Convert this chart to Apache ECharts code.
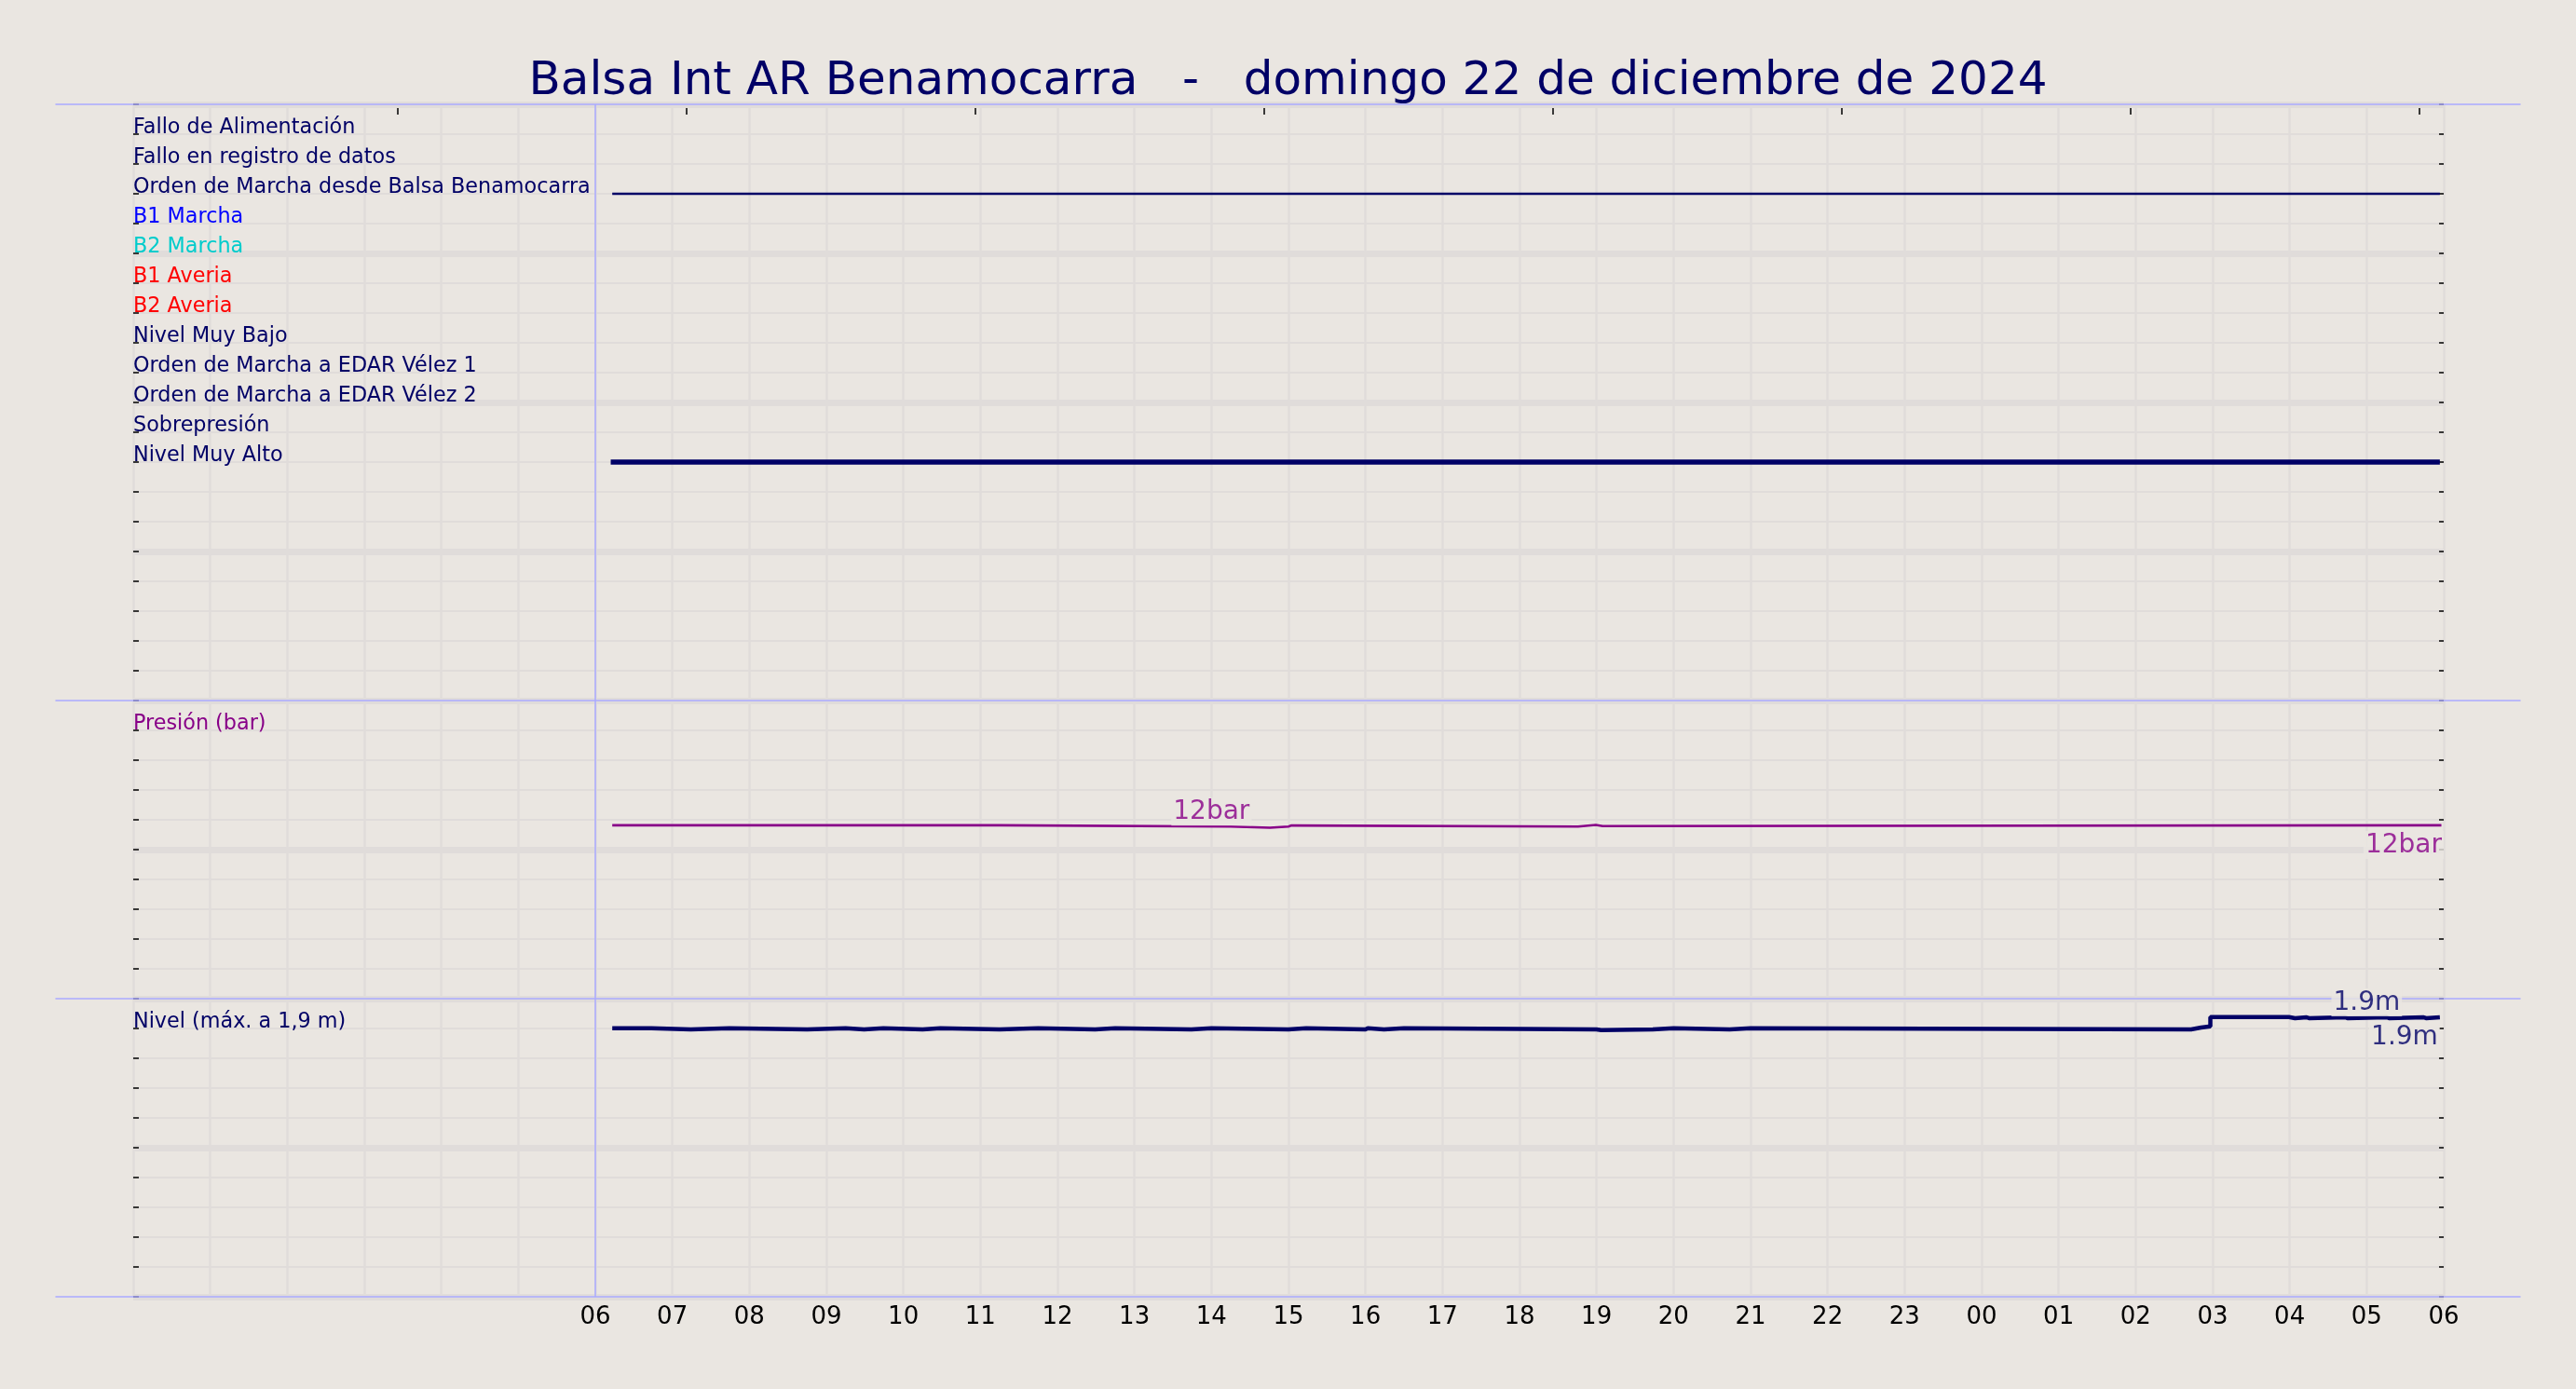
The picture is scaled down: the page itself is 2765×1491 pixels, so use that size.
<!DOCTYPE html>
<html><head><meta charset="utf-8">
<script src="https://cdn.jsdelivr.net/npm/echarts/dist/echarts.min.js"></script>
<style>html,body{margin:0;padding:0;background:#EAE6E1;}#c{width:2765px;height:1491px;}</style>
</head><body><div id="c"></div>
<script>
// ---------------- DATA ----------------
const titleText = 'Balsa Int AR Benamocarra   -   domingo 22 de diciembre de 2024';
// x axis: hours since 00:00 of the day (0..30); labels shown from 06 to 06
const xTickLabels = ['06','07','08','09','10','11','12','13','14','15','16','17','18','19','20','21','22','23','00','01','02','03','04','05','06'];
const xLabelStartHour = 6;

const signalNames = ['Fallo de Alimentación','Fallo en registro de datos','Orden de Marcha desde Balsa Benamocarra','B1 Marcha','B2 Marcha','B1 Averia','B2 Averia','Nivel Muy Bajo','Orden de Marcha a EDAR Vélez 1','Orden de Marcha a EDAR Vélez 2','Sobrepresión','Nivel Muy Alto'];
// [hour, state]
const falloAlimentacion = [[6.2,0],[29.95,0]];
const falloRegistro     = [[6.2,0],[29.95,0]];
const ordenBalsa        = [[6.22,1],[29.95,1]];
const b1Marcha          = [[6.2,0],[29.95,0]];
const b2Marcha          = [[6.2,0],[29.95,0]];
const b1Averia          = [[6.2,0],[29.95,0]];
const b2Averia          = [[6.2,0],[29.95,0]];
const nivelMuyBajo      = [[6.2,0],[29.95,0]];
const ordenEdar1        = [[6.2,0],[29.95,0]];
const ordenEdar2        = [[6.2,0],[29.95,0]];
const sobrepresion      = [[6.2,0],[29.95,0]];
const nivelMuyAlto      = [[6.2,1],[29.95,1]];

const pressureHours = [6.22, 11.25, 14.25, 14.76, 15.0, 15.04, 18.76, 18.99, 19.08, 29.97];
const pressureBar   = [11.63, 11.55, 11.47, 11.55, 11.62, 11.55, 11.66, 11.58, 11.63, 11.63];

const levelHours = [6.22, 6.73, 7.24, 7.74, 8.75, 9.25, 9.49, 9.74, 10.25, 10.48, 11.25, 11.75, 12.49, 12.75, 13.74, 14.0, 15.0, 15.23, 16.0, 16.03, 16.24, 16.5, 19.0, 19.06, 19.73, 20.0, 20.73, 21.0, 26.72, 26.85, 26.97, 27.99, 28.07, 28.22, 28.25, 28.72, 28.75, 29.26, 29.29, 29.74, 29.77, 29.95];
const levelM     = [1.802, 1.794, 1.802, 1.794, 1.802, 1.794, 1.802, 1.794, 1.802, 1.794, 1.802, 1.794, 1.802, 1.794, 1.802, 1.794, 1.802, 1.794, 1.802, 1.794, 1.802, 1.794, 1.789, 1.794, 1.802, 1.794, 1.802, 1.794, 1.806, 1.814, 1.877, 1.869, 1.875, 1.869, 1.875, 1.869, 1.875, 1.869, 1.875, 1.869, 1.875, 1.875];

const pressureTitle = 'Presión (bar)';
const levelTitle = 'Nivel (máx. a 1,9 m)';
// annotations: [hour, value, text]
const pressureMaxNote  = [14.0, 11.55, '12bar'];
const pressureLastNote = [30.0, 11.63, '12bar'];
const levelMaxNote     = [29.0, 1.875, '1.9m'];
const levelLastNote    = [29.95, 1.875, '1.9m'];

// ---------------- STYLE ----------------
const FONT = 'DejaVu Sans';
const BG = '#EAE6E1', GRIDC = '#E0DCDA', BLUE = '#AAAAFF', NAVY = '#000066', PURPLE = '#880088';
const LABEL_SIZE = 22.3;
const signalColors = [NAVY, NAVY, NAVY, '#0000FF', '#00CCCC', '#FF0000', '#FF0000', NAVY, NAVY, NAVY, NAVY, NAVY];
const signalLineWidths = [2.5,2.5,2.5,2.5,2.5,2.5,2.5,2.5,2.5,2.5,2.5,5.5];
const signalStates = [falloAlimentacion, falloRegistro, ordenBalsa, b1Marcha, b2Marcha, b1Averia, b2Averia, nivelMuyBajo, ordenEdar1, ordenEdar2, sobrepresion, nivelMuyAlto];

const LEFT = 143, WIDTH = 2480;
const TOP_ROWS = 20;
const panels = [{top:112, height:640}, {top:752, height:320}, {top:1072, height:320}];

const chart = echarts.init(document.getElementById('c'), null, {renderer:'canvas'});

function xPanel(gi, labels) {
  return {
    type:'value', gridIndex:gi, min:0, max:30, interval:1, position:'bottom',
    axisLine:{show:false}, axisTick:{show:false},
    splitLine:{show:true, lineStyle:{color:GRIDC, width:2.5}},
    axisLabel: labels ? {show:true, color:'#000', fontSize:26, fontFamily:FONT, margin:9, showMinLabel:true, showMaxLabel:true,
      formatter: v => (v >= xLabelStartHour ? xTickLabels[v - xLabelStartHour] : '')} : {show:false}
  };
}
function yLeft(gi, min, max, interval, formatter, rich) {
  return {
    type:'value', gridIndex:gi, min, max, interval, position:'left',
    axisLine:{show:false},
    axisTick:{show:true, inside:true, length:6, lineStyle:{color:'#000', width:1.5}},
    splitLine:{show:true, lineStyle:{color:GRIDC, width:2}},
    axisLabel:{show:true, inside:true, margin:0, verticalAlign:'bottom', formatter, rich, showMinLabel:true, showMaxLabel:true}
  };
}
function yRight(gi, min, max, interval) {
  return {
    type:'value', gridIndex:gi, min, max, interval, position:'right',
    axisLine:{show:false}, axisLabel:{show:false}, splitLine:{show:false},
    axisTick:{show:true, inside:true, length:5, lineStyle:{color:'#000', width:1.5}}
  };
}
function yThick(gi, min, max, interval) {
  return {
    type:'value', gridIndex:gi, min, max, interval, position:'left',
    axisLine:{show:false}, axisLabel:{show:false}, axisTick:{show:false},
    splitLine:{show:true, lineStyle:{color:GRIDC, width:7}}
  };
}

const richSignals = {};
signalColors.forEach((c,k) => richSignals['s'+k] = {color:c, fontSize:LABEL_SIZE, fontFamily:FONT, lineHeight:14});

const topFormatter = v => { const k = TOP_ROWS - 1 - v; return (k >= 0 && k < signalNames.length) ? `{s${k}|${signalNames[k]}}` : ''; };
const presFormatter = v => (Math.abs(v - 18) < 1e-6 ? `{p|${pressureTitle}}` : '');
const levelFormatter = v => (Math.abs(v - 1.8) < 1e-6 ? `{n|${levelTitle}}` : '');

const vMark = {silent:true, symbol:'none', label:{show:false}, lineStyle:{color:BLUE, width:1.5, type:'solid'}, data:[{xAxis:xLabelStartHour}]};

const series = [];
signalStates.forEach((st,k) => {
  series.push({
    type:'line', xAxisIndex:0, yAxisIndex:0, step:'end', symbol:'none', showSymbol:false, z:4,
    data: st.map(([h,s]) => [h, s ? TOP_ROWS - 1 - k : null]),
    lineStyle:{color:signalColors[k], width:signalLineWidths[k]},
    markLine: k === 2 ? vMark : undefined
  });
});
series.push({
  type:'line', xAxisIndex:1, yAxisIndex:3, step:'end', symbol:'none', showSymbol:false, z:4,
  data: pressureHours.map((h,i) => [h, pressureBar[i]]),
  lineStyle:{color:PURPLE, width:2.6}, markLine: vMark
});
series.push({
  type:'line', xAxisIndex:2, yAxisIndex:6, step:'end', symbol:'none', showSymbol:false, z:4,
  data: levelHours.map((h,i) => [h, levelM[i]]),
  lineStyle:{color:NAVY, width:4.5}, markLine: vMark
});
function note(xi, yi, n, color, kind) {
  const lab = kind === 'max'
    ? {position:'top', distance:1}
    : {position:'bottom', distance:6, align:'right'};
  return {
    type:'scatter', xAxisIndex:xi, yAxisIndex:yi, symbolSize:0, z:6, silent:true,
    data:[[n[0], n[1]]],
    label:Object.assign({show:true, formatter:n[2], color, fontSize:28, fontFamily:FONT,
      backgroundColor:BG, padding:[2,2,0,2]}, lab)
  };
}
series.push(note(1,3,pressureMaxNote,PURPLE,'max'));
series.push(note(1,3,pressureLastNote,PURPLE,'last'));
series.push(note(2,6,levelMaxNote,NAVY,'max'));
series.push(note(2,6,levelLastNote,NAVY,'last'));

function blueX(pos, offset) {
  return {type:'value', gridIndex:3, min:0, max:1, position:pos, offset, z:5,
    axisLine:{show:true, onZero:false, lineStyle:{color:BLUE, width:1.5}}, axisTick:{show:false}, axisLabel:{show:false}, splitLine:{show:false}};
}

const option = {
  backgroundColor: BG,
  animation:false,
  textStyle:{fontFamily:FONT},
  title:{text:titleText, left:'center', top:58, textStyle:{fontSize:50, fontWeight:'normal', color:NAVY, fontFamily:FONT}},
  grid:[
    {left:LEFT, width:WIDTH, top:panels[0].top, height:panels[0].height},
    {left:LEFT, width:WIDTH, top:panels[1].top, height:panels[1].height},
    {left:LEFT, width:WIDTH, top:panels[2].top, height:panels[2].height},
    {left:60, width:2645, top:112, height:1280},
    {left:427, width:2170, top:116, height:1}
  ],
  xAxis:[
    xPanel(0,false), xPanel(1,false), xPanel(2,true),
    blueX('top',0), blueX('bottom',0), blueX('bottom',-320), blueX('bottom',-640),
    {type:'value', gridIndex:4, min:0, max:7, interval:1, position:'top',
      axisLine:{show:false, onZero:false}, axisLabel:{show:false}, splitLine:{show:false},
      axisTick:{show:true, inside:true, length:7, lineStyle:{color:'#000', width:1.5}}}
  ],
  yAxis:[
    yLeft(0, 0, TOP_ROWS, 1, topFormatter, richSignals),
    yRight(0, 0, TOP_ROWS, 1),
    yThick(0, 0, TOP_ROWS, 5),
    yLeft(1, 0, 20, 2, presFormatter, {p:{color:PURPLE, fontSize:LABEL_SIZE, fontFamily:FONT, lineHeight:14}}),
    yRight(1, 0, 20, 2),
    yThick(1, 0, 20, 10),
    yLeft(2, 0, 2, 0.2, levelFormatter, {n:{color:NAVY, fontSize:LABEL_SIZE, fontFamily:FONT, lineHeight:14}}),
    yRight(2, 0, 2, 0.2),
    yThick(2, 0, 2, 1),
    {type:'value', gridIndex:3, min:0, max:1, show:false},
    {type:'value', gridIndex:4, min:0, max:1, show:false}
  ],
  series
};
chart.setOption(option);
</script></body></html>
